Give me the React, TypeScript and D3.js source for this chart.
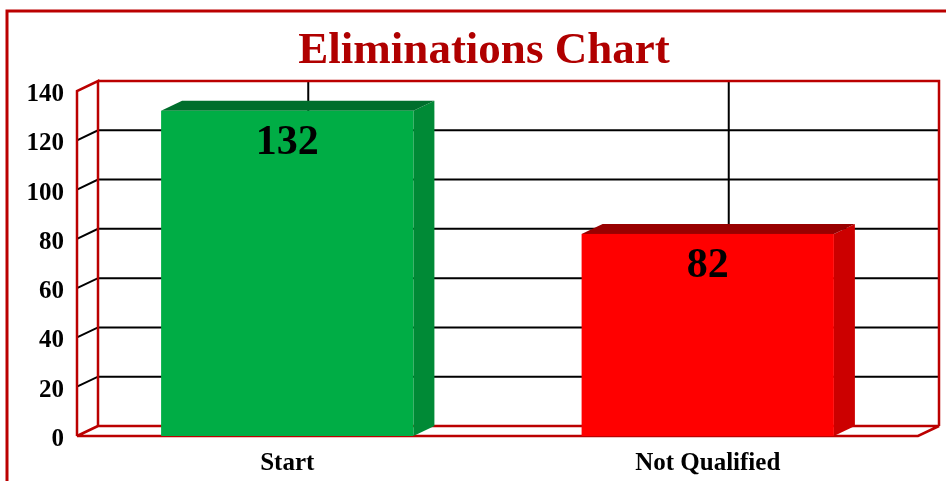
import { useEffect, useRef } from 'react';
import * as d3 from 'd3';

const categories = ['Start', 'Not Qualified'];
const values = [132, 82];
const yTicks = [0, 20, 40, 60, 80, 100, 120, 140];

const frontColors = ['#00ad45', '#ff0000'];
const topColors = ['#006e2c', '#990000'];
const sideColors = ['#008a36', '#cc0000'];

const App = () => {
  const ref = useRef<SVGSVGElement>(null);

  useEffect(() => {
    drawChart();
  }, []);

  const drawChart = () => {
    const width = 946;
    const height = 481;
    const left = 77;
    const right = 918;
    const top = 91;
    const bottom = 436;
    const dx = 21;
    const dy = -10;
    const axisRed = '#bb0000';
    const font = '"Liberation Serif", "Times New Roman", serif';

    const svg = d3.select(ref.current);
    svg.selectAll('*').remove();
    svg.attr('width', width).attr('height', height);

    const x = d3.scaleBand().domain(categories).range([left, right]).paddingInner(0.4).paddingOuter(0.2);
    const y = d3.scaleLinear().domain([0, 140]).range([bottom, top]);

    // outer frame (partly off page)
    svg.append('rect')
      .attr('x', 7).attr('y', 11)
      .attr('width', 960).attr('height', 500)
      .attr('fill', 'none').attr('stroke', axisRed).attr('stroke-width', 3);

    // title
    svg.append('text')
      .attr('x', 484).attr('y', 63)
      .attr('text-anchor', 'middle')
      .attr('font-family', font).attr('font-weight', 'bold')
      .attr('font-size', 45).attr('fill', '#b00000')
      .text('Eliminations Chart');

    // vertical gridlines on back wall at category centres
    categories.forEach(c => {
      const cx = x(c)! + x.bandwidth() / 2 + dx;
      svg.append('line')
        .attr('x1', cx).attr('x2', cx)
        .attr('y1', y(140) + dy).attr('y2', y(0) + dy)
        .attr('stroke', '#000').attr('stroke-width', 2);
    });

    // horizontal gridlines: side diagonal + back wall
    yTicks.filter(t => t > 0 && t < 140).forEach(t => {
      svg.append('polyline')
        .attr('points', `${left},${y(t)} ${left + dx},${y(t) + dy} ${right + dx},${y(t) + dy}`)
        .attr('fill', 'none').attr('stroke', '#000').attr('stroke-width', 2);
    });

    // red axis frame
    const red = (pts: number[][]) => svg.append('polyline')
      .attr('points', pts.map(p => p.join(',')).join(' '))
      .attr('fill', 'none').attr('stroke', axisRed).attr('stroke-width', 2.5)
      .attr('stroke-linejoin', 'miter');
    red([[left, y(0)], [left, y(140)], [left + dx, y(140) + dy], [left + dx, y(0) + dy]]);
    red([[left + dx, y(140) + dy], [right + dx, y(140) + dy], [right + dx, y(0) + dy]]);
    red([[left + dx, y(0) + dy], [right + dx, y(0) + dy], [right, y(0)], [left, y(0)], [left + dx, y(0) + dy]]);

    // bars
    const bw = x.bandwidth();
    categories.forEach((c, i) => {
      const x0 = x(c)!;
      const x1 = x0 + bw;
      const yt = y(values[i]);
      const yb = y(0);
      const g = svg.append('g');
      g.append('polygon')
        .attr('points', `${x1},${yt} ${x1 + dx},${yt + dy} ${x1 + dx},${yb + dy} ${x1},${yb}`)
        .attr('fill', sideColors[i]);
      g.append('polygon')
        .attr('points', `${x0},${yt} ${x0 + dx},${yt + dy} ${x1 + dx},${yt + dy} ${x1},${yt}`)
        .attr('fill', topColors[i]);
      g.append('rect')
        .attr('x', x0).attr('y', yt)
        .attr('width', bw).attr('height', yb - yt)
        .attr('fill', frontColors[i]);
      g.append('text')
        .attr('x', x0 + bw / 2).attr('y', yt + 43)
        .attr('text-anchor', 'middle')
        .attr('font-family', font).attr('font-weight', 'bold')
        .attr('font-size', 42).attr('fill', '#000')
        .text(values[i]);
    });

    // y tick labels
    yTicks.forEach(t => {
      svg.append('text')
        .attr('x', 64).attr('y', y(t) + 10)
        .attr('text-anchor', 'end')
        .attr('font-family', font).attr('font-weight', 'bold')
        .attr('font-size', 25).attr('fill', '#000')
        .text(t);
    });

    // x labels
    categories.forEach(c => {
      svg.append('text')
        .attr('x', x(c)! + bw / 2).attr('y', 470)
        .attr('text-anchor', 'middle')
        .attr('font-family', font).attr('font-weight', 'bold')
        .attr('font-size', 25).attr('fill', '#000')
        .text(c);
    });
  };

  return <svg ref={ref} style={{ position: 'fixed', left: 0, top: 0 }}></svg>;
};

export default App;
